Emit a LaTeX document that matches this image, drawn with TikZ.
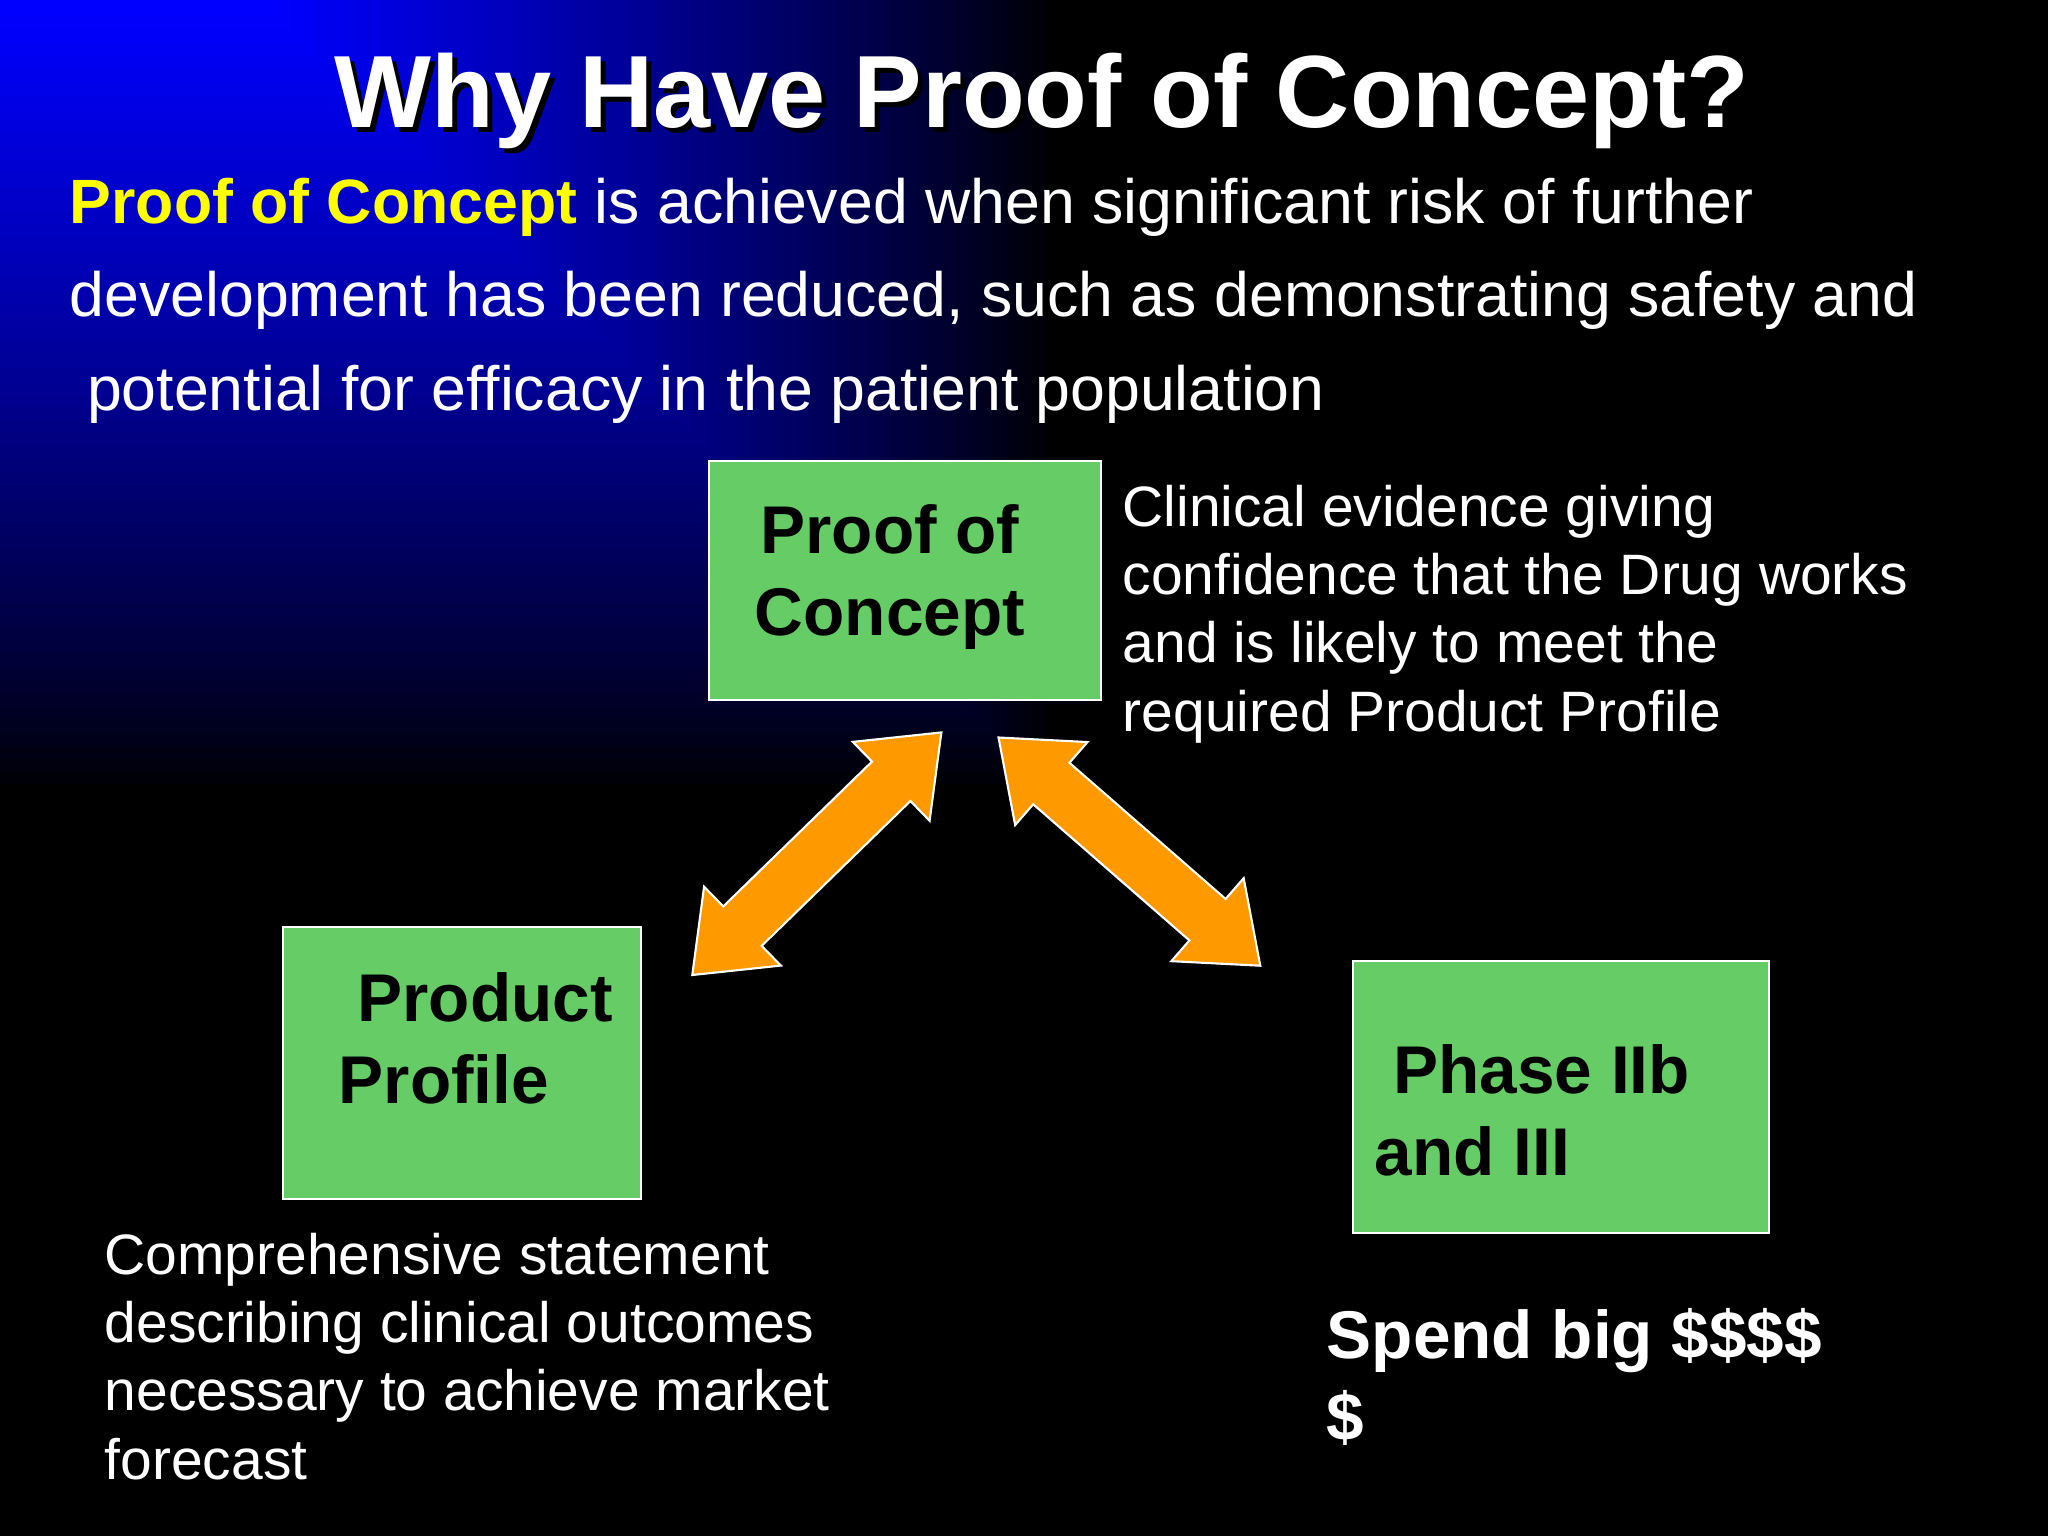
\documentclass[tikz,border=0pt]{standalone}
\usepackage{fontspec}
\setmainfont{Liberation Sans}
\usepackage{xcolor}
\usepackage{tikz}
\usetikzlibrary{calc}

\definecolor{pocgreen}{RGB}{102,204,102}
\definecolor{pocorange}{RGB}{255,153,0}
\definecolor{pocyellow}{RGB}{255,255,0}

\tikzset{
greenbox/.style = {draw = white,line width = 0.6pt,fill = pocgreen,inner sep = 0pt,anchor = north west},
boxtext/.style = {anchor = base west,inner sep = 0pt,align = left,text = black,font = \fontsize{19.2}{23.2}\selectfont\bfseries},
notetext/.style = {anchor = base west,inner sep = 0pt,align = left,text = white,font = \fontsize{16.2}{19.35}\selectfont},
blockarrow/.style = {fill = pocorange,draw = white,line width = 0.6pt,line join = miter}
}

\newcommand{\dblarrow}[2]{%
\draw [blockarrow] let \p1 = (#1), \p2 = (#2), \n1 = {atan2(\y2-\y1,\x2-\x1)}, \n2 = {veclen(\x2-\x1,\y2-\y1)} in
{[shift = {(\p1)},rotate = \n1]
(0pt,0pt) -- (0.70cm,0.55cm) -- (0.70cm,0.275cm) -- ({\n2*1pt-0.70cm},0.275cm) -- ({\n2*1pt-0.70cm},0.55cm)
-- ({\n2*1pt},0pt) -- ({\n2*1pt-0.70cm},-0.55cm) -- ({\n2*1pt-0.70cm},-0.275cm) -- (0.70cm,-0.275cm) -- (0.70cm,-0.55cm) -- cycle};
}

\begin{document}
\begin{tikzpicture}[x = 0.01cm,y = -0.01cm]
\useasboundingbox (0,0) rectangle (2048,1536);


\begin{scope}
\clip (0,0) rectangle (2048,1536);
\fill [black] (0,0) rectangle (2048,1536);
\foreach \i in {0,...,59}{
\pgfmathsetmacro{\sq}{1045-\i*13}
\pgfmathsetmacro{\pct}{100*((\i+1)/60)^0.85}
\fill [blue!\pct!black] (-\sq,-261-\sq) rectangle (\sq,-261+\sq);
}
\end{scope}


\node[anchor = base,inner sep = 0pt,text = black,font = \fontsize{29.2}{35}\selectfont\bfseries] at(1047,132) (titleshadow) {Why Have Proof of Concept?};
\node[anchor = base,inner sep = 0pt,text = white,font = \fontsize{29.2}{35}\selectfont\bfseries] at(1042,127) (title) {Why Have Proof of Concept?};


\node[anchor = base west,inner sep = 0pt,align = left,text = white,font = \fontsize{17.8}{26.5}\selectfont] at(69,410) (intro)
{\textcolor{pocyellow}{\textbf{Proof of Concept}} is achieved when significant risk of further\\
development has been reduced, such as demonstrating safety and\\
\hspace*{0.278em}potential for efficacy in the patient population};


\node[greenbox,minimum width = 3.92cm,minimum height = 2.39cm] at(708,460) (poc) {};
\node[greenbox,minimum width = 3.58cm,minimum height = 2.72cm] at(282,926) (profile) {};
\node[greenbox,minimum width = 4.16cm,minimum height = 2.72cm] at(1352,960) (phase) {};


\node[boxtext,anchor = base,align = center] at(890,635) (poctext) {Proof of\\Concept};
\node[boxtext] at(338,1103) (profiletext) {\hspace*{0.278em}Product\\Profile};
\node[boxtext] at(1374,1175) (phasetext) {\hspace*{0.278em}Phase IIb\\and III};


\node[notetext] at(1122,731) (pocnote) {Clinical evidence giving\\confidence that the Drug works\\and is likely to meet the\\required Product Profile};
\node[notetext] at(104,1479) (profilenote) {Comprehensive statement\\describing clinical outcomes\\necessary to achieve market\\forecast};
\node[anchor = base west,inner sep = 0pt,align = left,text = white,font = \fontsize{19.2}{23.2}\selectfont\bfseries] at(1326,1440) (spend) {Spend big \$\$\$\$\\\$};


\coordinate (tipL1) at (941.5,732.3);
\coordinate (tipL2) at (692.3,975);
\coordinate (tipR1) at (998.3,737.3);
\coordinate (tipR2) at (1260.3,965.7);

\dblarrow{tipL2}{tipL1}
\dblarrow{tipR2}{tipR1}
\end{tikzpicture}
\end{document}
